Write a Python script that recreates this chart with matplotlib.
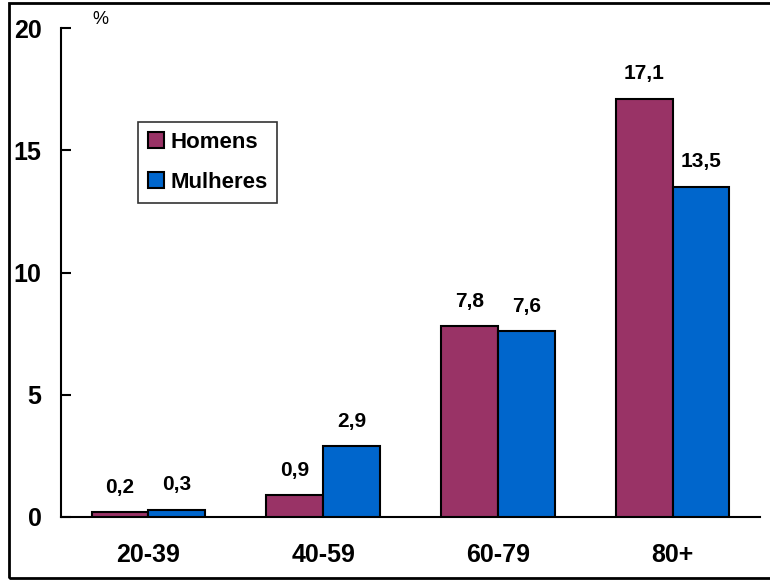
import matplotlib
matplotlib.use("Agg")
import matplotlib.pyplot as plt
from matplotlib.patches import Rectangle
import numpy as np

plt.rcParams['font.family'] = ['Liberation Sans', 'DejaVu Sans']

categories = ["20-39", "40-59", "60-79", "80+"]
homens = [0.2, 0.9, 7.8, 17.1]
mulheres = [0.3, 2.9, 7.6, 13.5]
series_names = ["Homens", "Mulheres"]
colors = ["#993366", "#0066CC"]

W, H = 770, 581
fig = plt.figure(figsize=(W / 100, H / 100), dpi=100)
ax = fig.add_axes([61 / W, 1 - 517 / H, (760 - 61) / W, (517 - 28) / H])

x = np.arange(len(categories))
bw = 0.325
bars_h = ax.bar(x - bw / 2, homens, bw, color=colors[0], edgecolor="black",
                linewidth=1.5, label=series_names[0], zorder=3)
bars_m = ax.bar(x + bw / 2, mulheres, bw, color=colors[1], edgecolor="black",
                linewidth=1.5, label=series_names[1], zorder=3)

for bars, vals in ((bars_h, homens), (bars_m, mulheres)):
    for b, v in zip(bars, vals):
        ax.annotate(f"{v:.1f}".replace(".", ","),
                    (b.get_x() + b.get_width() / 2, v),
                    xytext=(0, 14), textcoords="offset points",
                    ha="center", va="baseline", fontsize=15,
                    fontweight="bold")

ax.set_xlim(-0.5, 3.5)
ax.set_ylim(0, 20)
ax.set_yticks([0, 5, 10, 15, 20])
ax.set_xticks(x)
ax.set_xticklabels(categories)
ax.tick_params(axis="y", direction="in", length=7, width=1.5, pad=14,
               labelsize=18)
ax.tick_params(axis="x", length=0, pad=19, labelsize=18)
for lbl in ax.get_yticklabels() + ax.get_xticklabels():
    lbl.set_fontweight("bold")

for s in ("top", "right"):
    ax.spines[s].set_visible(False)
ax.spines["left"].set_linewidth(1.5)
ax.spines["bottom"].set_linewidth(1.5)

ax.text(100 / W, 1 - 20 / H, "%", transform=fig.transFigure,
        ha="center", va="center", fontsize=13)

leg = ax.legend(loc="upper left", bbox_to_anchor=((138 - 61) / 699, (517 - 122) / 489),
                frameon=True, fancybox=False, shadow=False, handlelength=0.7,
                handleheight=0.7, handletextpad=0.3, borderpad=0.45,
                borderaxespad=0, labelspacing=0.85,
                prop={"size": 16, "weight": "bold"})
leg.get_frame().set_edgecolor("black")
leg.get_frame().set_linewidth(1.2)

fig.patches.append(Rectangle((9 / W, 3 / H), 1.0, (575) / H,
                             transform=fig.transFigure, fill=False,
                             edgecolor="black", linewidth=2.0, zorder=10))

fig.savefig("out.png", dpi=100)
